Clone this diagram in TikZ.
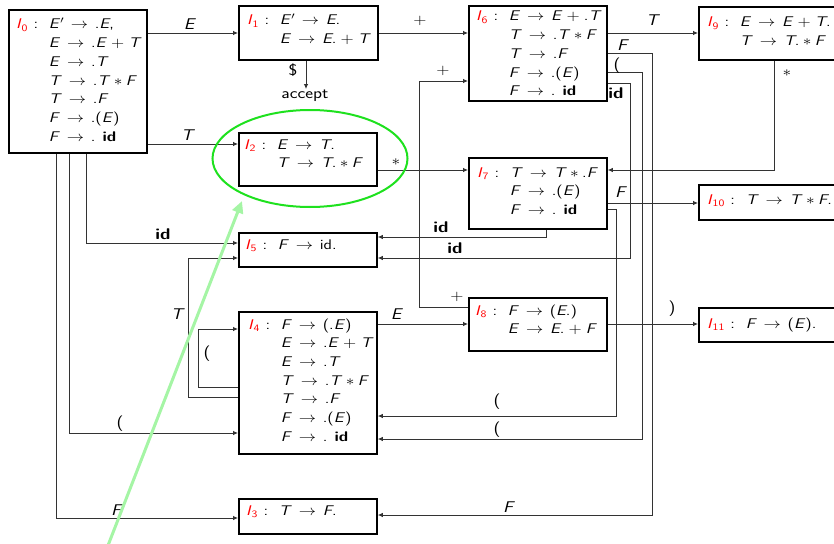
\documentclass[tikz,border=0pt]{standalone}
\usepackage{graphicx}
\usepackage{xcolor}
\usetikzlibrary{arrows.meta}
\renewcommand{\familydefault}{\sfdefault}
\definecolor{hlgreen}{RGB}{30,225,30}
\definecolor{lightg}{RGB}{165,245,165}
\newcommand{\hstr}[1]{\scalebox{1.2}[1]{#1}}
\newcommand{\vE}{\textit{E}}
\newcommand{\vT}{\textit{T}}
\newcommand{\vF}{\textit{F}}
\newcommand{\myar}{\hspace{0.4em}$\rightarrow$\hspace{0.4em}}
\newcommand{\pl}{\hspace{0.25em}$+$\hspace{0.25em}}
\newcommand{\mst}{\hspace{0.2em}$\ast$\hspace{0.2em}}
\newcommand{\bid}{\textbf{id}}
\newcommand{\lab}[1]{\textcolor{red}{\textit{I}\textsubscript{#1}}\ :}
\newcommand{\tb}[1]{\hstr{\begin{tabular}[t]{@{}l@{\hspace{9pt}}l@{}}#1\end{tabular}}}
\begin{document}
\begin{tikzpicture}[x=1pt,y=-1pt,
  box/.style={draw=black, line width=1.8pt, anchor=north west, inner sep=0pt},
  txt/.style={inner sep=0pt, anchor=base west, font=\fontsize{14}{18.7}\selectfont},
  lbl/.style={inner sep=1pt, font=\fontsize{15.5}{18.7}\selectfont},
  wl/.style={lbl, fill=white},
  edge/.style={draw=black!80, line width=0.8pt, -{Latex[length=5pt,width=4.5pt]}}
]
\path[use as bounding box] (0,0) rectangle (834,543);
\clip (0,0) rectangle (834,543);

% boxes
\node[box, minimum width=138pt, minimum height=143pt] (I0) at (8,9) {};
\node[box, minimum width=139pt, minimum height=54pt] (I1) at (238,5) {};
\node[box, minimum width=138pt, minimum height=95pt] (I6) at (468,5) {};
\node[box, minimum width=150pt, minimum height=53pt] (I9) at (698,6) {};
\node[box, minimum width=138pt, minimum height=53pt] (I2) at (238,132) {};
\node[box, minimum width=138pt, minimum height=71pt] (I7) at (468,157) {};
\node[box, minimum width=150pt, minimum height=35pt] (I10) at (698,184) {};
\node[box, minimum width=138pt, minimum height=34pt] (I5) at (238,232) {};
\node[box, minimum width=138pt, minimum height=142pt] (I4) at (238,311) {};
\node[box, minimum width=138pt, minimum height=53pt] (I8) at (468,297) {};
\node[box, minimum width=150pt, minimum height=34pt] (I11) at (698,307) {};
\node[box, minimum width=138pt, minimum height=35pt] (I3) at (238,498) {};

% box texts
\node[txt] (T0) at (16,29) {\tb{\lab{0} & \vE$'$\myar.\vE, \\
 & \vE\myar.\vE\pl\vT \\ & \vE\myar.\vT \\ & \vT\myar.\vT\mst\vF \\
 & \vT\myar.\vF \\ & \vF\myar.(\vE) \\ & \vF\myar. \bid}};
\node[txt] (T1) at (247,25) {\tb{\lab{1} & \vE$'$\myar\vE. \\ & \vE\myar\vE.\pl\vT}};
\node[txt] (T6) at (476,21) {\tb{\lab{6} & \vE\myar\vE\pl.\vT \\
 & \vT\myar.\vT\mst\vF \\ & \vT\myar.\vF \\ & \vF\myar.(\vE) \\ & \vF\myar. \bid}};
\node[txt] (T9) at (707,27) {\tb{\lab{9} & \vE\myar\vE\pl\vT. \\ & \vT\myar\vT.\mst\vF}};
\node[txt] (T2) at (244,149) {\tb{\lab{2} & \vE\myar\vT. \\ & \vT\myar\vT.\mst\vF}};
\node[txt] (T7) at (477,177) {\tb{\lab{7} & \vT\myar\vT\mst.\vF \\ & \vF\myar.(\vE) \\ & \vF\myar. \bid}};
\node[txt] (T10) at (707,204) {\tb{\lab{10} & \vT\myar\vT\mst\vF.}};
\node[txt] (T5) at (245,249) {\tb{\lab{5} & \vF\myar id.}};
\node[txt] (T4) at (248,329) {\tb{\lab{4} & \vF\myar(.\vE) \\
 & \vE\myar.\vE\pl\vT \\ & \vE\myar.\vT \\ & \vT\myar.\vT\mst\vF \\
 & \vT\myar.\vF \\ & \vF\myar.(\vE) \\ & \vF\myar. \bid}};
\node[txt] (T8) at (475,315) {\tb{\lab{8} & \vF\myar(\vE.) \\ & \vE\myar\vE.\pl\vF}};
\node[txt] (T11) at (707,328) {\tb{\lab{11} & \vF\myar(\vE).}};
\node[txt] (T3) at (246,515) {\tb{\lab{3} & \vT\myar\vF.}};

\node[lbl] (acc) at (305,96) {\hstr{accept}};

% connectors
\draw[edge] (I0.east |- 0,33) -- (I1.west |- 0,33);
\draw[edge] (I0.east |- 0,144) -- (I2.west |- 0,144);
\draw[edge] (I1.east |- 0,33) -- (I6.west |- 0,33);
\draw[edge] (I1.south -| 306,0) -- (acc.north -| 306,0);
\draw[edge] (I6.east |- 0,33) -- (I9.west |- 0,33);
\draw[edge] (I2.east |- 0,170) -- (I7.west |- 0,170);
\draw[edge] (I9.south -| 774,0) |- (I7.east |- 0,170);
\draw[edge] (I7.east |- 0,203) -- (I10.west |- 0,203);
\draw[edge] (I7.east |- 0,209) -| (616,416) -- (I4.east |- 0,416);
\draw[edge] (I7.south -| 546,0) |- (I5.east |- 0,237);
\draw[edge] (I6.east |- 0,83) -| (630,258) -- (I5.east |- 0,258);
\draw[edge] (I6.east |- 0,72) -| (642,439) -- (I4.east |- 0,439);
\draw[edge] (I6.east |- 0,53) -| (652,515) -- (I3.east |- 0,515);
\draw[edge] (I8.west |- 0,307) -| (419,81) -- (I6.west |- 0,81);
\draw[edge] (I4.east |- 0,324) -- (I8.west |- 0,324);
\draw[edge] (I8.east |- 0,324) -- (I11.west |- 0,324);
\draw[edge] (I0.south -| 86,0) |- (I5.west |- 0,243);
\draw[edge] (I0.south -| 69,0) |- (I4.west |- 0,433);
\draw[edge] (I0.south -| 56,0) |- (I3.west |- 0,518);
\draw[edge] (I4.west |- 0,387) -| (198,329) -- (I4.west |- 0,329);
\draw[edge] (I4.west |- 0,397) -| (188,258) -- (I5.west |- 0,258);

% connector labels
\node[lbl] (l1) at (190,24) {\hstr{\vE}};
\node[lbl] (l2) at (188,135) {\hstr{\vT}};
\node[lbl] (l3) at (420,21) {\hstr{$+$}};
\node[lbl] (l4) at (293,70) {\hstr{\$}};
\node[lbl] (l5) at (443,71) {\hstr{$+$}};
\node[lbl] (l6) at (653,20) {\hstr{\vT}};
\node[lbl] (l7) at (623,45) {\hstr{\vF}};
\node[lbl] (l8) at (617,66) {\hstr{(}};
\node[lbl] (l9) at (616,93) {\hstr{\bid}};
\node[lbl] (l10) at (787,73) {\hstr{$\ast$}};
\node[lbl] (l11) at (396,162) {\hstr{$\ast$}};
\node[lbl] (l12) at (621,192) {\hstr{\vF}};
\node[lbl] (l13) at (441,227) {\hstr{\bid}};
\node[lbl] (l14) at (455,248) {\hstr{\bid}};
\node[wl] (l15) at (163,234) {\hstr{\bid}};
\node[lbl] (l16) at (178,314) {\hstr{\vT}};
\node[lbl] (l17) at (207,354) {\hstr{(}};
\node[lbl] (l18) at (120,424) {\hstr{(}};
\node[lbl] (l19) at (397,314) {\hstr{\vE}};
\node[lbl] (l20) at (457,297) {\hstr{$+$}};
\node[lbl] (l21) at (672,309) {\hstr{)}};
\node[lbl] (l22) at (497,402) {\hstr{(}};
\node[lbl] (l23) at (497,430) {\hstr{(}};
\node[wl] (l24) at (117,510) {\hstr{\vF}};
\node[wl] (l25) at (509,507) {\hstr{\vF}};

% highlight
\draw[hlgreen, line width=2pt] (310,158.5) ellipse [x radius=97.5pt, y radius=48.5pt];
\draw[lightg, line width=3pt, -{Triangle[length=12pt,width=11pt]}] (107,548) -- (242,201);
\end{tikzpicture}
\end{document}
